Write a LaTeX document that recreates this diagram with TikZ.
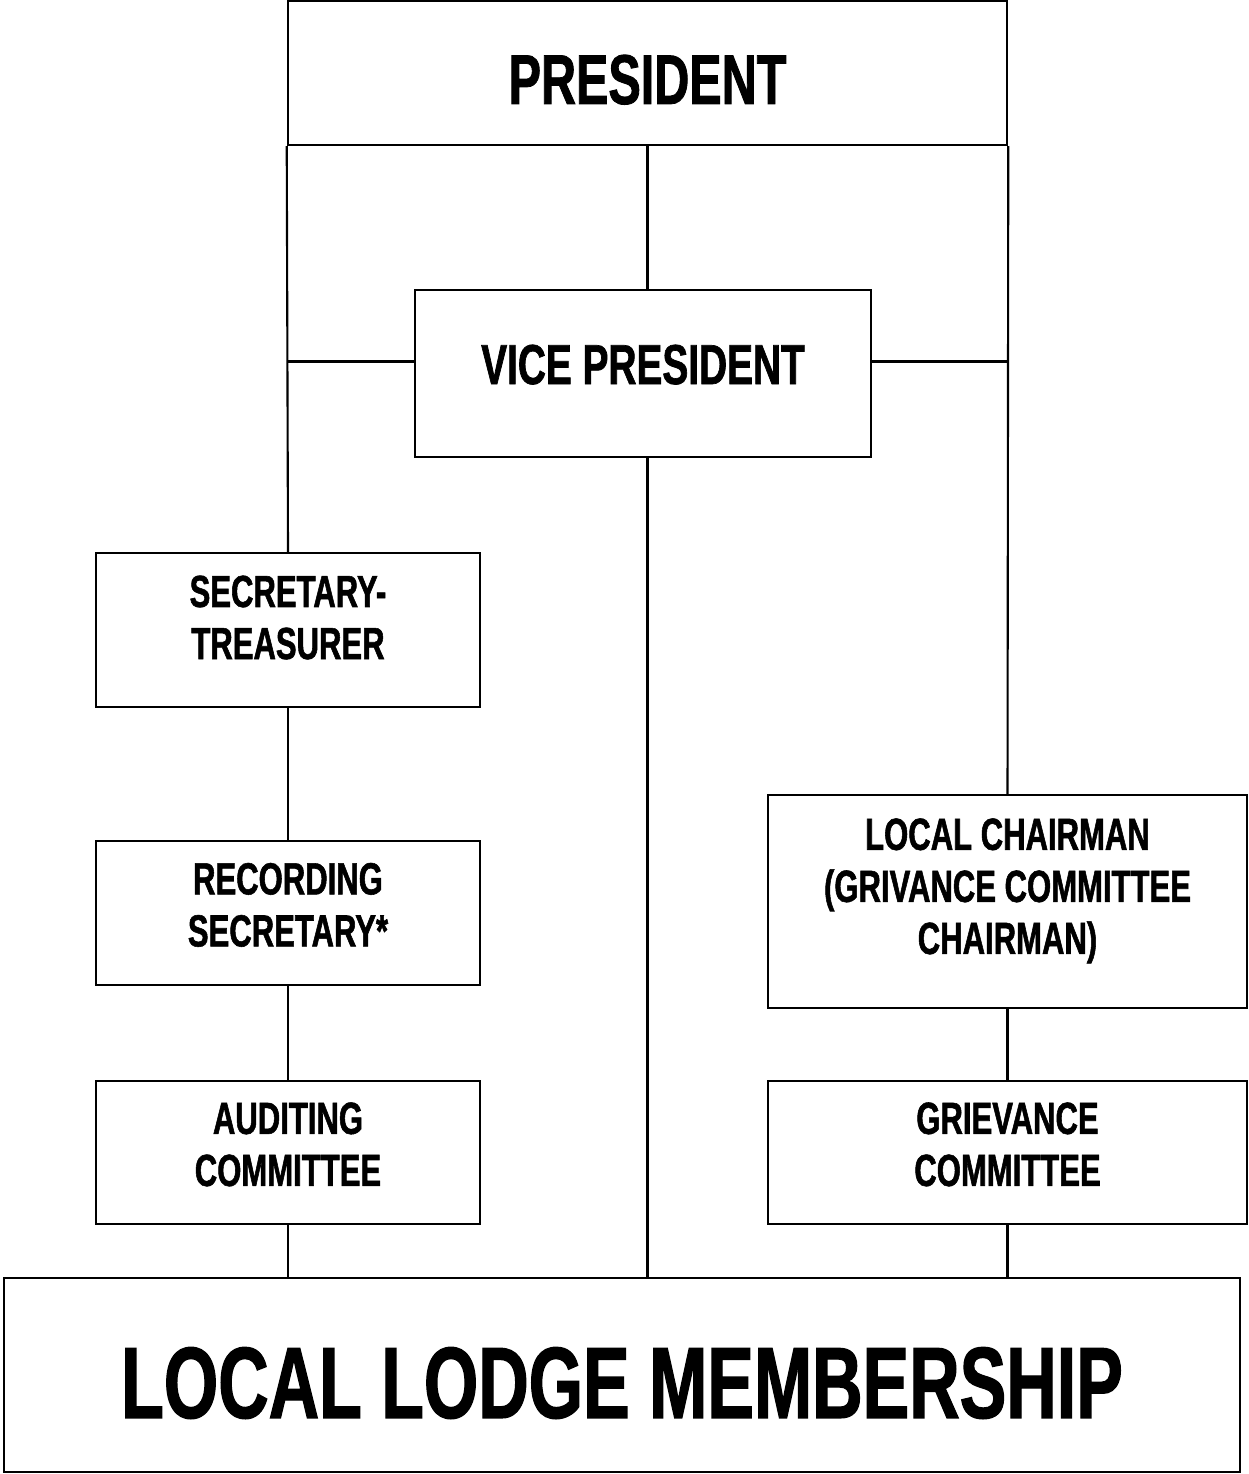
\documentclass[tikz,border=0pt]{standalone}
\usepackage{fontspec}
\setmainfont{Liberation Sans}[FakeStretch=0.69,BoldFeatures={FakeBold=1.2}]
\newcommand{\boxtext}[2][0pt]{\raisebox{#1}[\height][\depth]{\begin{tabular}{@{}c@{}}#2\end{tabular}}}

\begin{document}
\begin{tikzpicture}[x=0.01cm,y=-0.01cm,line width=0.6pt,
  box/.style={draw,rectangle,inner sep=0pt,font=\bfseries},
  small/.style={box,minimum width=3.84cm,font=\bfseries\fontsize{12.8}{14.8}\selectfont},
  side/.style={box,minimum width=4.79cm,font=\bfseries\fontsize{12.8}{14.8}\selectfont}]
\useasboundingbox (0,0) rectangle (1248,1474);
\node[box,minimum width=7.19cm,minimum height=1.44cm,font=\bfseries\fontsize{20}{24}\selectfont] (pres) at (647.5,73) {\boxtext[-4pt]{PRESIDENT}};
\node[box,minimum width=4.56cm,minimum height=1.67cm,font=\bfseries\fontsize{16}{19.2}\selectfont] (vp) at (643,373.5) {\boxtext[0.85pt]{VICE PRESIDENT}};
\node[small,minimum height=1.54cm] (sec) at (288,630) {\boxtext[2.1pt]{SECRETARY-\\TREASURER}};
\node[small,minimum height=1.44cm] (rec) at (288,913) {\boxtext[0.85pt]{RECORDING\\SECRETARY*}};
\node[small,minimum height=1.43cm] (aud) at (288,1152.5) {\boxtext[0.85pt]{AUDITING\\COMMITTEE}};
\node[side,minimum height=2.13cm] (chair) at (1007.5,901.5) {\boxtext[2.85pt]{LOCAL CHAIRMAN\\(GRIVANCE COMMITTEE\\CHAIRMAN)}};
\node[side,minimum height=1.43cm] (grv) at (1007.5,1152.5) {\boxtext[0.85pt]{GRIEVANCE\\COMMITTEE}};
\node[box,minimum width=12.36cm,minimum height=1.94cm,font=\bfseries\fontsize{28.8}{34}\selectfont] (llm) at (622,1375) {\boxtext[-5.4pt]{LOCAL LODGE MEMBERSHIP}};
% connectors
\draw (pres.south) -- (pres.south |- vp.north);
\draw (pres.south |- vp.south) -- (pres.south |- llm.north);
\draw (pres.south west) -- (sec.north);
\draw (pres.south east) -- (chair.north);
\draw ([yshift=0.12cm]vp.west) -- ([yshift=0.12cm]vp.west -| sec.north);
\draw ([yshift=0.12cm]vp.east) -- ([yshift=0.12cm]vp.east -| chair.north);
\draw (sec) -- (rec);
\draw (rec) -- (aud);
\draw (aud.south) -- (aud.south |- llm.north);
\draw (chair) -- (grv);
\draw (grv.south) -- (grv.south |- llm.north);
\end{tikzpicture}
\end{document}
